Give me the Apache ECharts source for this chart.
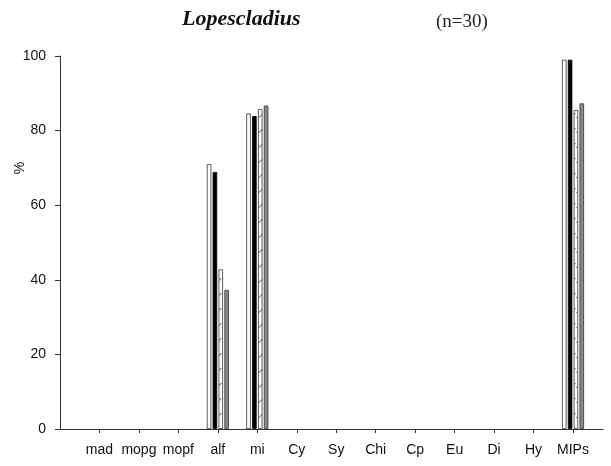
<!DOCTYPE html>
<html>
<head>
<meta charset="utf-8">
<script src="https://cdn.jsdelivr.net/npm/echarts@6/dist/echarts.min.js"></script>
<style>
html,body{margin:0;padding:0;background:#fff;}
#main{width:611px;height:466px;}
</style>
</head>
<body>
<div id="main"></div>
<script>
var categories = ['mad','mopg','mopf','alf','mi','Cy','Sy','Chi','Cp','Eu','Di','Hy','MIPs'];
var seriesWhite   = [0,0,0,71.0,84.6,0,0,0,0,0,0,0,99.0];
var seriesBlack   = [0,0,0,68.9,83.9,0,0,0,0,0,0,0,99.0];
var seriesHatched = [0,0,0,42.8,85.8,0,0,0,0,0,0,0,85.5];
var seriesGray    = [0,0,0,37.3,86.7,0,0,0,0,0,0,0,87.3];
var yTicks = [0,20,40,60,80,100];

var positions = categories.map(function(c,i){return i+1;});
// zero values are not drawn (they would only leave a flat stroke on the axis)
function pairs(arr){ return arr.map(function(v,i){return [positions[i], v === 0 ? '-' : v];}); }

// hatch pattern
var pc = document.createElement('canvas');
pc.width = 6; pc.height = 15;
var ctx = pc.getContext('2d');
ctx.fillStyle = '#ffffff';
ctx.fillRect(0,0,6,15);
ctx.strokeStyle = '#444';
ctx.lineWidth = 1;
ctx.beginPath();
ctx.moveTo(0.5,13);
ctx.lineTo(5.5,8);
ctx.stroke();

var chart = echarts.init(document.getElementById('main'), null, {renderer:'canvas'});
var barW = 4.5;
function bar(name, data, style){
  return {
    name: name, type: 'bar', data: pairs(data),
    barWidth: barW, barGap: '30%',
    itemStyle: style, silent: true, animation: false
  };
}
chart.setOption({
  animation: false,
  title: [
    {text: 'Lopescladius', left: 177, top: 3,
     textStyle: {fontFamily: 'Liberation Serif', fontStyle: 'italic', fontWeight: 'bold', fontSize: 22, color: '#111'}},
    {text: '(n=30)', left: 431, top: 8,
     textStyle: {fontFamily: 'Liberation Serif', fontWeight: 'normal', fontSize: 19, color: '#222'}}
  ],
  graphic: [
    {type: 'text', x: 20, y: 168, rotation: Math.PI/2,
     style: {text: '%', fontFamily: 'Liberation Sans', fontSize: 14, fill: '#111', align: 'center', verticalAlign: 'middle'}}
  ],
  grid: {left: 60, right: 8, top: 56, bottom: 37, containLabel: false},
  xAxis: {
    type: 'value', min: 0, max: 13.76,
    axisLine: {show: true, lineStyle: {color: '#333', width: 1}},
    axisTick: {show: true, length: 4, lineStyle: {color: '#333'}, customValues: positions},
    axisLabel: {show: true, customValues: positions, margin: 14,
      fontFamily: 'Liberation Sans', fontSize: 14, color: '#111',
      formatter: function(v){ return categories[Math.round(v)-1] || ''; }},
    splitLine: {show: false}
  },
  yAxis: {
    type: 'value', min: 0, max: 100, interval: 20,
    axisLine: {show: true, lineStyle: {color: '#333', width: 1}},
    axisTick: {show: true, length: 5, lineStyle: {color: '#333'}},
    axisLabel: {margin: 14, fontFamily: 'Liberation Sans', fontSize: 14, color: '#111',
      formatter: function(v){ return yTicks.indexOf(v) >= 0 ? String(v) : ''; }},
    splitLine: {show: false}
  },
  series: [
    bar('A', seriesWhite, {color: '#ffffff', borderColor: '#333', borderWidth: 0.8}),
    bar('B', seriesBlack, {color: '#000000', borderColor: '#000', borderWidth: 0.8}),
    bar('C', seriesHatched, {color: {image: pc, repeat: 'repeat'}, borderColor: '#333', borderWidth: 0.8}),
    bar('D', seriesGray, {color: '#888888', borderColor: '#333', borderWidth: 0.8})
  ]
});
</script>
</body>
</html>
